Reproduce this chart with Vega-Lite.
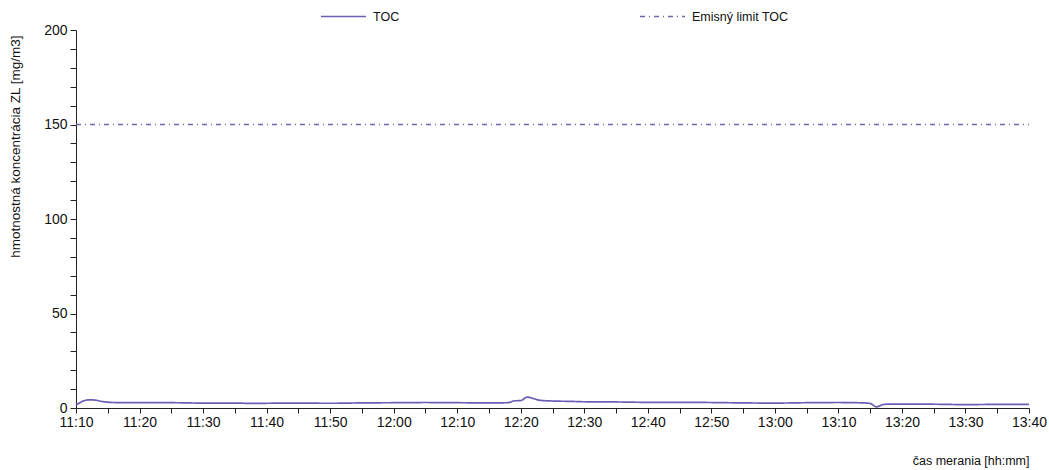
{
  "$schema": "https://vega.github.io/schema/vega-lite/v6.json",
  "width": 953,
  "height": 378,
  "autosize": {"type": "none"},
  "padding": {"left": 76, "top": 30, "right": 20, "bottom": 62},
  "background": "white",
  "config": {
    "view": {"stroke": null},
    "font": "Liberation Sans",
    "axis": {"grid": false, "domainColor": "#222", "tickColor": "#222", "labelColor": "#111", "titleColor": "#111", "titleFontWeight": "normal"}
  },
  "data": {
    "values": [
      {"t": "2020-01-01T11:10:00", "v": 1.5, "series": "TOC"},
      {"t": "2020-01-01T11:11:00", "v": 3.5, "series": "TOC"},
      {"t": "2020-01-01T11:12:00", "v": 4.3, "series": "TOC"},
      {"t": "2020-01-01T11:13:00", "v": 4.2, "series": "TOC"},
      {"t": "2020-01-01T11:14:00", "v": 3.5, "series": "TOC"},
      {"t": "2020-01-01T11:15:00", "v": 3.1, "series": "TOC"},
      {"t": "2020-01-01T11:16:00", "v": 2.9, "series": "TOC"},
      {"t": "2020-01-01T11:20:00", "v": 2.8, "series": "TOC"},
      {"t": "2020-01-01T11:25:00", "v": 2.8, "series": "TOC"},
      {"t": "2020-01-01T11:30:00", "v": 2.6, "series": "TOC"},
      {"t": "2020-01-01T11:35:00", "v": 2.6, "series": "TOC"},
      {"t": "2020-01-01T11:38:00", "v": 2.4, "series": "TOC"},
      {"t": "2020-01-01T11:40:00", "v": 2.5, "series": "TOC"},
      {"t": "2020-01-01T11:45:00", "v": 2.6, "series": "TOC"},
      {"t": "2020-01-01T11:50:00", "v": 2.5, "series": "TOC"},
      {"t": "2020-01-01T11:55:00", "v": 2.7, "series": "TOC"},
      {"t": "2020-01-01T12:00:00", "v": 2.8, "series": "TOC"},
      {"t": "2020-01-01T12:05:00", "v": 2.9, "series": "TOC"},
      {"t": "2020-01-01T12:10:00", "v": 2.8, "series": "TOC"},
      {"t": "2020-01-01T12:15:00", "v": 2.7, "series": "TOC"},
      {"t": "2020-01-01T12:18:00", "v": 2.8, "series": "TOC"},
      {"t": "2020-01-01T12:19:00", "v": 3.8, "series": "TOC"},
      {"t": "2020-01-01T12:20:00", "v": 3.9, "series": "TOC"},
      {"t": "2020-01-01T12:21:00", "v": 5.8, "series": "TOC"},
      {"t": "2020-01-01T12:22:00", "v": 5.0, "series": "TOC"},
      {"t": "2020-01-01T12:23:00", "v": 4.1, "series": "TOC"},
      {"t": "2020-01-01T12:25:00", "v": 3.7, "series": "TOC"},
      {"t": "2020-01-01T12:28:00", "v": 3.5, "series": "TOC"},
      {"t": "2020-01-01T12:30:00", "v": 3.3, "series": "TOC"},
      {"t": "2020-01-01T12:35:00", "v": 3.2, "series": "TOC"},
      {"t": "2020-01-01T12:40:00", "v": 3.0, "series": "TOC"},
      {"t": "2020-01-01T12:45:00", "v": 3.0, "series": "TOC"},
      {"t": "2020-01-01T12:50:00", "v": 2.9, "series": "TOC"},
      {"t": "2020-01-01T12:55:00", "v": 2.7, "series": "TOC"},
      {"t": "2020-01-01T13:00:00", "v": 2.6, "series": "TOC"},
      {"t": "2020-01-01T13:05:00", "v": 2.8, "series": "TOC"},
      {"t": "2020-01-01T13:10:00", "v": 2.9, "series": "TOC"},
      {"t": "2020-01-01T13:14:00", "v": 2.7, "series": "TOC"},
      {"t": "2020-01-01T13:15:00", "v": 2.4, "series": "TOC"},
      {"t": "2020-01-01T13:16:00", "v": 0.6, "series": "TOC"},
      {"t": "2020-01-01T13:17:00", "v": 1.8, "series": "TOC"},
      {"t": "2020-01-01T13:18:00", "v": 2.1, "series": "TOC"},
      {"t": "2020-01-01T13:20:00", "v": 2.1, "series": "TOC"},
      {"t": "2020-01-01T13:25:00", "v": 2.0, "series": "TOC"},
      {"t": "2020-01-01T13:30:00", "v": 1.8, "series": "TOC"},
      {"t": "2020-01-01T13:35:00", "v": 1.9, "series": "TOC"},
      {"t": "2020-01-01T13:40:00", "v": 1.9, "series": "TOC"},
      {"t": "2020-01-01T11:10:00", "v": 150, "series": "Emisný limit TOC"},
      {"t": "2020-01-01T13:40:00", "v": 150, "series": "Emisný limit TOC"}
    ]
  },
  "mark": {"type": "line", "strokeWidth": 1.7, "interpolate": "monotone"},
  "encoding": {
    "x": {
      "field": "t", "type": "temporal",
      "scale": {"nice": false},
      "axis": {"format": "%H:%M", "labelFontSize": 14, "tickSize": 5, "labelPadding": 2, "labelFlush": false,
        "title": "čas merania [hh:mm]", "titleFontSize": 12.5, "titleAnchor": "end", "titleAlign": "right", "titleBaseline": "middle", "titleX": 953, "titleY": 52}
    },
    "y": {
      "field": "v", "type": "quantitative",
      "scale": {"domain": [0, 200], "nice": false},
      "axis": {"values": [0, 10, 20, 30, 40, 50, 60, 70, 80, 90, 100, 110, 120, 130, 140, 150, 160, 170, 180, 190, 200],
        "labelExpr": "datum.value % 50 == 0 ? datum.label : ''",
        "tickSize": 6, "labelFontSize": 14, "labelPadding": 3,
        "title": "hmotnostná koncentrácia ZL [mg/m3]", "titleFontSize": 13.5, "titleAngle": -90, "titleAlign": "right", "titleBaseline": "middle", "titleX": -61, "titleY": 5}
    },
    "color": {
      "field": "series", "type": "nominal",
      "scale": {"domain": ["TOC", "Emisný limit TOC"], "range": ["#6b5fb5", "#6a6aaa"]},
      "legend": {"title": null, "orient": "none", "legendX": 244, "legendY": -37, "direction": "horizontal", "symbolType": "stroke", "symbolSize": 2025, "symbolStrokeWidth": 1.5, "labelFontSize": 12.5, "labelOffset": 6, "columnPadding": 237, "labelColor": "#111"}
    },
    "strokeDash": {
      "field": "series", "type": "nominal",
      "scale": {"domain": ["TOC", "Emisný limit TOC"], "range": [[1, 0], [5, 4, 1, 4]]},
      "legend": {"title": null, "orient": "none", "legendX": 244, "legendY": -37, "direction": "horizontal", "symbolType": "stroke", "symbolSize": 2025, "symbolStrokeWidth": 1.5, "labelFontSize": 12.5, "labelOffset": 6, "columnPadding": 237, "labelColor": "#111"}
    }
  }
}
